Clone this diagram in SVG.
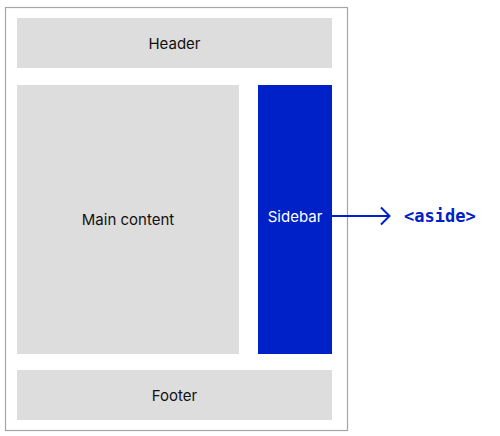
<svg xmlns="http://www.w3.org/2000/svg" width="500" height="436" viewBox="0 0 500 436">
<style>
.box{fill:#dddddd}
.lbl{font-family:Inter,"Noto Sans",sans-serif;font-size:15px;fill:#111;text-anchor:middle}
.code{font-family:"DejaVu Sans Mono",monospace;font-size:17px;font-weight:bold;fill:#0020c8}
</style>
<rect x="5.5" y="7.5" width="342" height="423" fill="#fff" stroke="#a6a6a6" stroke-width="1.2"/>
<g id="header"><rect class="box" x="17" y="18" width="315" height="50"/><text class="lbl" x="174.5" y="48.5">Header</text></g>
<g id="main"><rect class="box" x="17" y="85" width="222" height="269"/><text class="lbl" x="128" y="224.5">Main content</text></g>
<g id="sidebar"><rect x="258" y="85" width="74" height="269" fill="#0020c8"/><text class="lbl" x="295" y="222" style="fill:#fff">Sidebar</text></g>
<g id="footer"><rect class="box" x="17" y="370" width="315" height="50"/><text class="lbl" x="174.5" y="400.5">Footer</text></g>
<g id="connectors" fill="none" stroke="#0020c8" stroke-width="2">
<line x1="332" y1="216" x2="389" y2="216"/>
<polyline points="381,207.5 389.5,216 381,224.5"/>
</g>
<g id="aside"><text class="code" x="404" y="222">&lt;aside&gt;</text></g>
</svg>
